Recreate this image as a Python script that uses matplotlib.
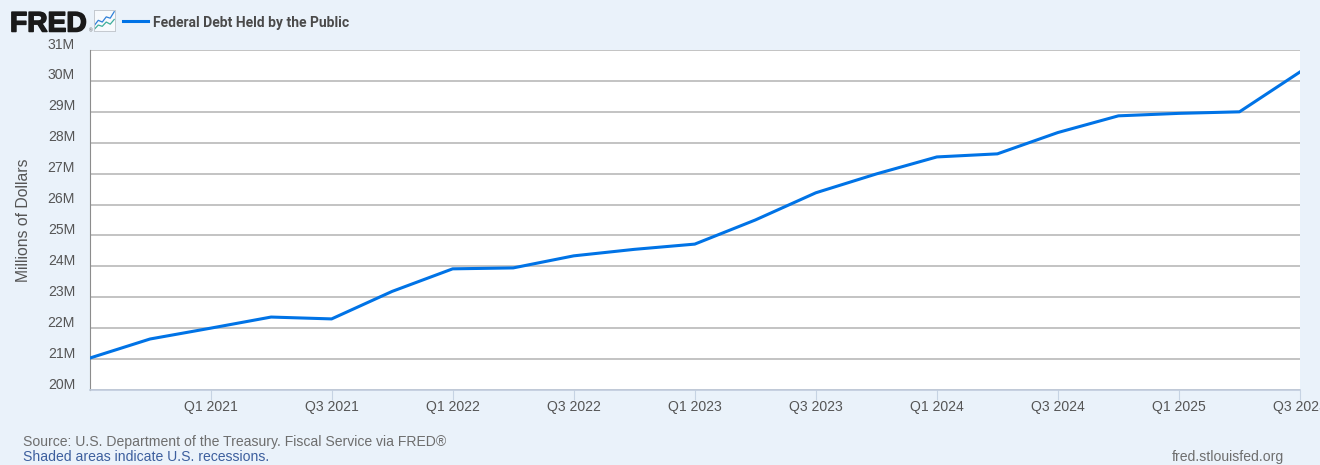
import matplotlib
matplotlib.use("Agg")
import matplotlib.pyplot as plt
import matplotlib.patheffects as pe
from matplotlib.transforms import ScaledTranslation

plt.rcParams['font.family'] = ['Liberation Sans', 'DejaVu Sans']

quarters = ["Q3 2020", "Q4 2020", "Q1 2021", "Q2 2021", "Q3 2021", "Q4 2021", "Q1 2022",
            "Q2 2022", "Q3 2022", "Q4 2022", "Q1 2023", "Q2 2023", "Q3 2023", "Q4 2023",
            "Q1 2024", "Q2 2024", "Q3 2024", "Q4 2024", "Q1 2025", "Q2 2025", "Q3 2025"]
debt = [21.03, 21.65, 22.00, 22.36, 22.30, 23.19, 23.92,
        23.95, 24.34, 24.55, 24.72, 25.50, 26.38, 26.99,
        27.54, 27.64, 28.33, 28.87, 28.95, 29.00, 30.29]
y_ticks = list(range(20, 32))
y_labels = [f"{v}M" for v in y_ticks]
x_ticks = list(range(2, 21, 2))
x_labels = [quarters[i] for i in x_ticks]

# little chart icon next to the logo
icon_blue = [0, 1, 2, 3, 4, 5]
icon_blue_y = [1.4, 2.6, 2.2, 3.4, 3.1, 4.6]
icon_green_y = [0.5, 1.5, 1.2, 2.2, 1.7, 2.8]

bg = '#EAF2FA'
W, H = 1320, 465

fig = plt.figure(figsize=(W / 100, H / 100), dpi=100, facecolor=bg)
ax = fig.add_axes([89.5 / W, 1 - 390 / H, 1210.5 / W, 340 / H], facecolor='white')

ax.plot(range(len(debt)), debt, color='#0073E6', lw=2.2, solid_joinstyle='round', zorder=3, clip_on=True)
ax.set_xlim(0, 20)
ax.set_ylim(20, 31)

ax.set_yticks(y_ticks)
ax.set_yticklabels(y_labels, fontsize=10.1, color='#555555')
ax.set_xticks(x_ticks)
ax.set_xticklabels(x_labels, fontsize=10.1, color='#555555')
ax.grid(axis='y', color='#BEBEBE', lw=1.3, zorder=1)
ax.tick_params(axis='y', length=0, pad=10.4)
ax.tick_params(axis='x', length=7, width=0.8, color='#C6D3E3', pad=0)

# FRED puts the y labels slightly above the gridline
up = ScaledTranslation(0, 7 / 100, fig.dpi_scale_trans)
for lab in ax.get_yticklabels():
    lab.set_transform(lab.get_transform() + up)

for s in ['top', 'right']:
    ax.spines[s].set_visible(False)
ax.spines['left'].set_color('#8C8C8C')
ax.spines['left'].set_linewidth(0.8)
ax.spines['bottom'].set_color('#C0CBDC')
ax.spines['bottom'].set_linewidth(1.2)

fig.text(24 / W, 1 - 220.5 / H, "Millions of Dollars", rotation=90, ha='center', va='center',
         fontsize=11.3, color='#555555')

# header
logo = fig.text(10 / W, 1 - 31.5 / H, "FRED", fontsize=20.3, fontweight='bold', color='#1A1A1A',
                ha='left', va='baseline', family=['Liberation Sans'])
logo.set_path_effects([pe.withStroke(linewidth=1.1, foreground='#1A1A1A')])
fig.text(88.5 / W, 1 - 32 / H, "®", fontsize=3.5, color='#555555', ha='left', va='baseline')

icon = fig.add_axes([93.5 / W, 1 - 31.5 / H, 21.5 / W, 21.5 / H], facecolor='#F7FAFD')
icon.plot(icon_blue, icon_blue_y, color='#2F80D8', lw=0.9)
icon.plot(icon_blue, icon_green_y, color='#3FAE9C', lw=0.9)
icon.set_xlim(-0.2, 5.2)
icon.set_ylim(0, 5)
icon.set_xticks([])
icon.set_yticks([])
for s in icon.spines.values():
    s.set_color('#C4C9CF')
    s.set_linewidth(0.7)

fig.add_artist(plt.Line2D([123 / W, 148 / W], [1 - 21 / H, 1 - 21 / H], color='#0073E6', lw=2.2))
fig.text(153 / W, 1 - 21 / H, "Federal Debt Held by the Public", fontsize=10, fontweight='bold',
         color='#4A4A4A', ha='left', va='center_baseline', family=['Roboto', 'DejaVu Sans'])

# footer
fig.text(23 / W, 1 - 446 / H, "Source: U.S. Department of the Treasury. Fiscal Service via FRED®",
         fontsize=10.07, color='#6E6E6E', ha='left', va='baseline')
fig.text(23 / W, 1 - 461 / H, "Shaded areas indicate U.S. recessions.",
         fontsize=10.07, color='#3D5F9E', ha='left', va='baseline')
fig.text(1284.5 / W, 1 - 461 / H, "fred.stlouisfed.org",
         fontsize=10.07, color='#6E6E6E', ha='right', va='baseline')

fig.savefig("out.png", dpi=100, facecolor=bg)
